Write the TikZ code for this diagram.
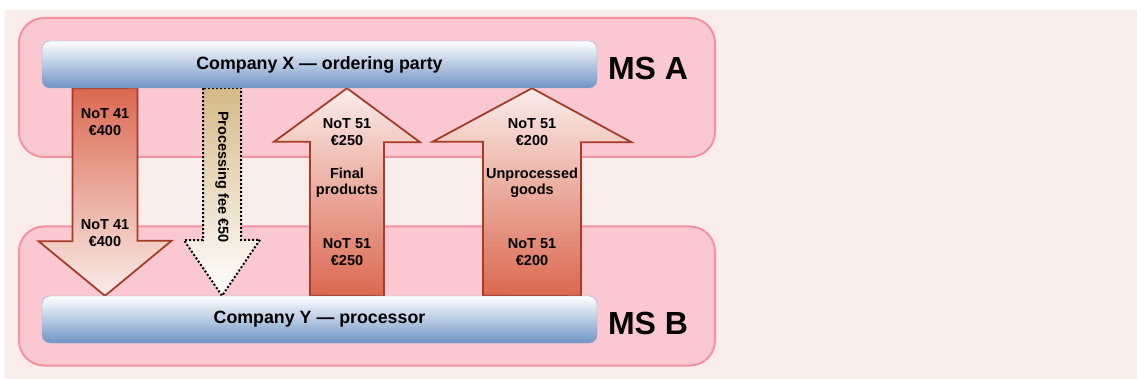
\documentclass[tikz,border=0pt]{standalone}
\usepackage{fontspec}
\setmainfont{Liberation Sans}
\usetikzlibrary{positioning}
\usetikzlibrary{calc}

\definecolor{bgpink}{HTML}{F9EDEC}
\definecolor{msfill}{HTML}{FBC8D1}
\definecolor{msedge}{HTML}{F4929F}
\definecolor{barblue}{HTML}{6F94C4}
\definecolor{baredge}{HTML}{8EAADB}
\definecolor{arrowred}{HTML}{DB6850}
\definecolor{arrowlight}{HTML}{FAEDEA}
\definecolor{arrowedge}{HTML}{A53C27}
\definecolor{feetan}{HTML}{D6BA88}

\pgfdeclarelayer{background}
\pgfsetlayers{background,main}

\begin{document}
\begin{tikzpicture}
  [x=1pt,y=-1pt,
  msbox/.style={draw=msedge,line width=2pt,fill=msfill,rounded corners=25pt,minimum width=696pt,minimum height=139pt},
  company/.style={draw=baredge,top color=white,bottom color=barblue,rounded corners=8pt,minimum width=555pt,minimum height=47pt,inner sep=0pt,font=\fontsize{17.8}{20}\selectfont\bfseries},
  downred/.style={draw=arrowedge,line width=1.8pt,top color=arrowred,bottom color=arrowlight},
  upred/.style={draw=arrowedge,line width=1.8pt,top color=arrowlight,bottom color=arrowred},
  feearrow/.style={draw=black,dash pattern=on 2pt off 2pt,line width=2pt,top color=feetan,bottom color=white},
  lbl/.style={align=center,inner sep=0pt,font=\fontsize{14.5}{16.5}\selectfont\bfseries},
  mslbl/.style={inner sep=0pt,font=\fontsize{32}{36}\selectfont\bfseries}]
  \useasboundingbox (0,0) rectangle (1137,379);

  % companies
  \node[company] (cx) at (319.5,64.5) {Company X --- ordering party};
  \node[company] (cy) at (319.5,319.5) {Company Y --- processor};

  \coordinate (a1) at (105,0);
  \coordinate (a2) at (222,0);
  \coordinate (a3) at (347,0);
  \coordinate (a4) at (532,0);

  \begin{pgfonlayer}{background}
    \fill[bgpink] (5,10) rectangle (1137,379);
    \node[msbox] (msa) at (367,87.5) {};
    \node[msbox] (msb) at (367,296) {};

    % flows
    \draw[downred] (a1 |- cx.south) ++(-32.5,0) -- ++(0,153) -- ++(-34,0) -- (a1 |- cy.north)
      -- ++(66.5,-55) -- ++(-34,0) -- ++(0,-153) -- cycle;
    \draw[feearrow] (a2 |- cx.south) ++(-19,0) -- ++(0,152) -- ++(-19,0) -- (a2 |- cy.north)
      -- ++(38,-56) -- ++(-19,0) -- ++(0,-152) -- cycle;
    \draw[upred] (a3 |- cy.north) ++(-37,0) -- ++(0,-154) -- ++(-36,0) -- (a3 |- cx.south)
      -- ++(73,54) -- ++(-36,0) -- ++(0,154) -- cycle;
    \draw[upred] (a4 |- cy.north) ++(-49,0) -- ++(0,-154) -- ++(-50.5,0) -- (a4 |- cx.south)
      -- ++(99.5,54) -- ++(-50.5,0) -- ++(0,154) -- cycle;
  \end{pgfonlayer}

  \node[mslbl] (msalbl) at (648,68) {MS A};
  \node[mslbl] (msblbl) at (648,323) {MS B};

  \node[lbl] (l11) at (105,122) {NoT 41\\€400};
  \node[lbl] (l12) at (105,233) {NoT 41\\€400};
  \node[lbl,rotate=-90] (l21) at (222,177) {Processing fee €50};
  \node[lbl] (l31) at (347,132) {NoT 51\\€250};
  \node[lbl] (l32) at (347,183) {Final\\products};
  \node[lbl] (l33) at (347,252) {NoT 51\\€250};
  \node[lbl] (l41) at (532,132) {NoT 51\\€200};
  \node[lbl] (l42) at (532,183) {Unprocessed\\goods};
  \node[lbl] (l43) at (532,252) {NoT 51\\€200};
\end{tikzpicture}
\end{document}
